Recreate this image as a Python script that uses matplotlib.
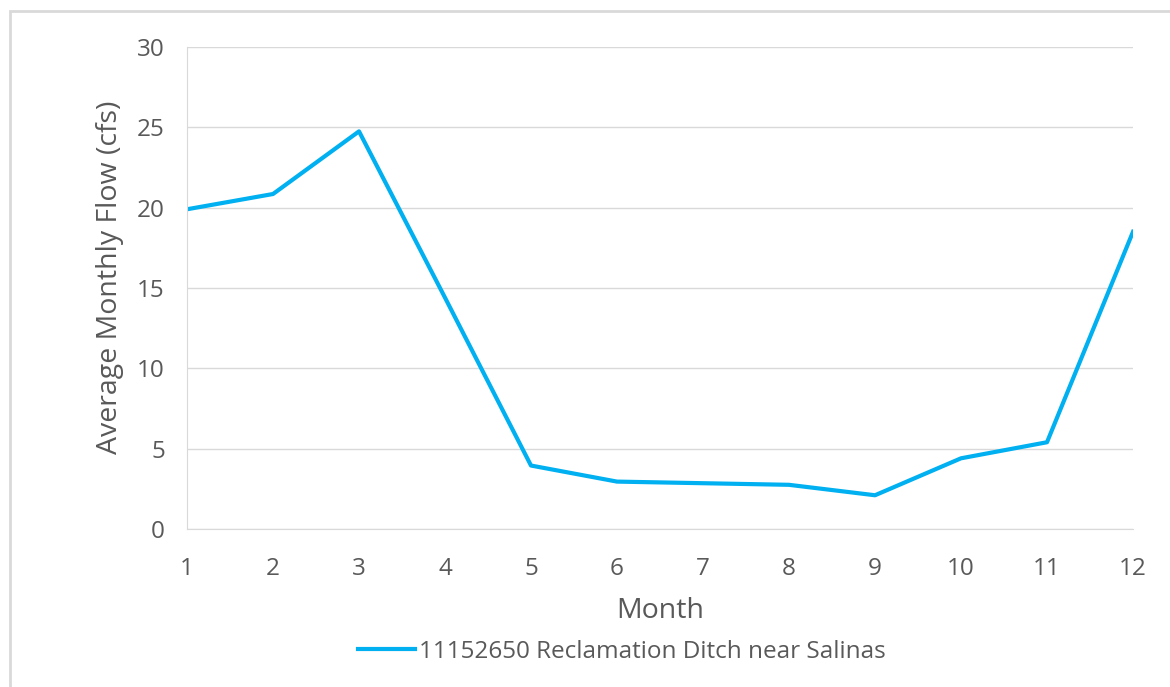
import matplotlib.pyplot as plt
from matplotlib.patches import Rectangle

months = [1, 2, 3, 4, 5, 6, 7, 8, 9, 10, 11, 12]
flow = [19.9, 20.85, 24.75, 14.4, 3.95, 2.95, 2.85, 2.75, 2.1, 4.4, 5.4, 18.5]
series_name = '11152650 Reclamation Ditch near Salinas'
y_ticks = [0, 5, 10, 15, 20, 25, 30]

plt.rcParams['font.family'] = ['Open Sans', 'DejaVu Sans']
grey = '#595959'
blue = '#00B0F0'

fig = plt.figure(figsize=(11.7, 6.87), dpi=100)
ax = fig.add_axes([187 / 1170, 1 - 529 / 687, (1133 - 187) / 1170, (529 - 47) / 687])

# outer chart frame (cut off at right/bottom like the screenshot)
fig.patches.append(Rectangle((10 / 1170, -0.05), 1.1, 1 - 11 / 687 + 0.05,
                             transform=fig.transFigure, fill=False,
                             edgecolor='#D9D9D9', linewidth=2))

ax.plot(months, flow, color=blue, linewidth=3, label=series_name)

ax.set_xlim(1, 12)
ax.set_ylim(0, 30)
ax.set_xticks(months)
ax.set_yticks(y_ticks)
ax.grid(axis='y', color='#D9D9D9', linewidth=1)
ax.set_axisbelow(True)
for side in ['top', 'right']:
    ax.spines[side].set_visible(False)
for side in ['left', 'bottom']:
    ax.spines[side].set_color('#D9D9D9')
ax.tick_params(length=0, labelsize=17.5, colors=grey)
ax.tick_params(axis='x', pad=20)
ax.tick_params(axis='y', pad=16)

ax.set_xlabel('Month', fontsize=20.5, color=grey, labelpad=12)
ax.set_ylabel('Average Monthly Flow (cfs)', fontsize=20.5, color=grey)
ax.yaxis.set_label_coords(-0.067, 0.523)

fig.legend(loc='center', bbox_to_anchor=(622 / 1170, 1 - 652 / 687), frameon=False,
           fontsize=17.5, labelcolor=grey, handlelength=2.35, handletextpad=0.15)

plt.savefig('out.png')
